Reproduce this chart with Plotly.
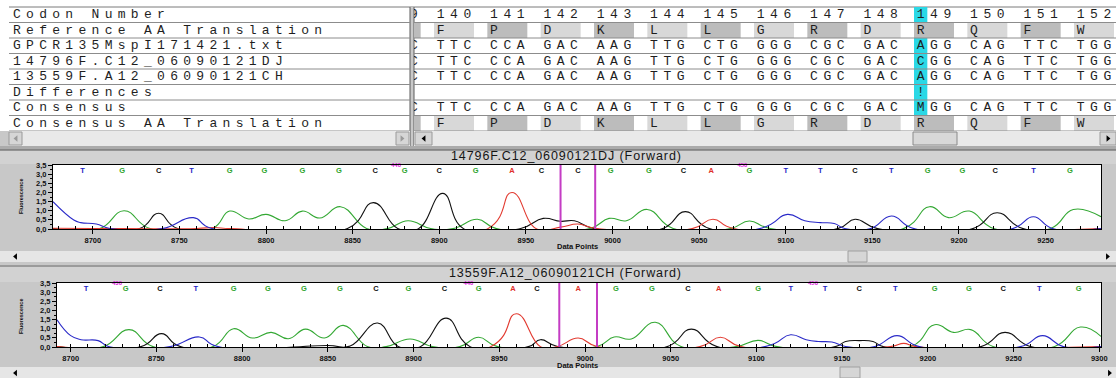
import plotly.graph_objects as go

W, H = 1116, 378

# ---------------------------------------------------------------- alignment table
row_labels = [
    "Codon Number",
    "Reference AA Translation",
    "GPCR135MspI171421.txt",
    "14796F.C12_06090121DJ",
    "13559F.A12_06090121CH",
    "Differences",
    "Consensus",
    "Consensus AA Translation",
]
codon_numbers = [139, 140, 141, 142, 143, 144, 145, 146, 147, 148, 149, 150, 151, 152]
ref_aa = [" ", "F", "P", "D", "K", "L", "L", "G", "R", "D", "R", "Q", "F", "W"]
seq_gpcr = ["  C", "TTC", "CCA", "GAC", "AAG", "TTG", "CTG", "GGG", "CGC", "GAC", "AGG", "CAG", "TTC", "TGG"]
seq_14796 = ["  C", "TTC", "CCA", "GAC", "AAG", "TTG", "CTG", "GGG", "CGC", "GAC", "CGG", "CAG", "TTC", "TGG"]
seq_13559 = ["  C", "TTC", "CCA", "GAC", "AAG", "TTG", "CTG", "GGG", "CGC", "GAC", "AGG", "CAG", "TTC", "TGG"]
seq_diff = ["   ", "   ", "   ", "   ", "   ", "   ", "   ", "   ", "   ", "   ", "!  ", "   ", "   ", "   "]
seq_consensus = ["  C", "TTC", "CCA", "GAC", "AAG", "TTG", "CTG", "GGG", "CGC", "GAC", "MGG", "CAG", "TTC", "TGG"]
cons_aa = [" ", "F", "P", "D", "K", "L", "L", "G", "R", "D", "R", "Q", "F", "W"]
variant_codon, variant_base = 149, 0

# ---------------------------------------------------------------- trace 14796F.C12 (Forward)
p1_title = "14796F.C12_06090121DJ (Forward)"
p1_range = [8677, 9282]
p1_green_x = [8677, 8704, 8718, 8733, 8769, 8779, 8790, 8800, 8811, 8821, 8831, 8843, 8858, 8870,
              8882, 8895, 8908, 8922, 8933, 8987, 8998, 9008, 9020, 9035, 9068, 9079, 9091, 9168,
              9183, 9194, 9206, 9220, 9253, 9266, 9282]
p1_green_y = [0.03, 0.02, 1.00, 0.02, 0.02, 0.98, 0.55, 0.80, 0.45, 0.98, 0.60, 1.22, 0.03, 0.02,
              0.45, 0.03, 0.02, 0.53, 0.02, 0.03, 0.58, 0.45, 1.07, 0.03, 0.02, 0.44, 0.03, 0.02,
              1.22, 0.62, 0.98, 0.03, 0.03, 1.07, 0.67]
p1_black_x = [8677, 8727, 8738, 8749, 8847, 8862, 8876, 8888, 8902, 8914, 8947, 8960, 8970, 8978,
              8989, 9029, 9042, 9056, 9130, 9140, 9153, 9208, 9222, 9237, 9282]
p1_black_y = [0.02, 0.02, 0.86, 0.02, 0.03, 1.44, 0.03, 0.02, 1.95, 0.02, 0.03, 0.58, 0.42, 0.45,
              0.03, 0.02, 0.95, 0.02, 0.02, 0.53, 0.02, 0.02, 0.89, 0.02, 0.02]
p1_red_x = [8677, 8700, 8760, 8770, 8780, 8928, 8942, 8956, 8970, 8980, 8990, 9046, 9058, 9070, 9282]
p1_red_y = [0.04, 0.03, 0.03, 0.08, 0.02, 0.02, 2.00, 0.02, 0.10, 0.27, 0.04, 0.02, 0.53, 0.02, 0.03]
p1_blue_x = [8677, 8689, 8693, 8702, 8710, 8740, 8758, 8769, 9085, 9101, 9111, 9120, 9128, 9134,
             9149, 9161, 9174, 9231, 9243, 9254, 9282]
p1_blue_y = [1.49, 0.49, 0.35, 0.27, 0.03, 0.02, 0.62, 0.02, 0.02, 0.80, 0.45, 0.35, 0.30, 0.03,
             0.02, 0.71, 0.02, 0.02, 0.67, 0.02, 0.03]
p1_calls = "TGCTGGGGCGCGACCGGCAGTTCTGGCTG"
p1_call_x = [8694, 8717, 8738, 8757, 8779, 8799, 8821, 8842, 8863, 8880, 8900, 8921, 8942, 8959,
             8980, 8999, 9021, 9041, 9057, 9079, 9100, 9120, 9140, 9161, 9182, 9202, 9221, 9243, 9264]
p1_marks = ["440", "450"]
p1_mark_x = [8875, 9075]
p1_cursor_x = [8970, 8990]

# ---------------------------------------------------------------- trace 13559F.A12 (Forward)
p2_title = "13559F.A12_06090121CH (Forward)"
p2_range = [8692, 9301]
p2_green_x = [8692, 8719, 8734, 8748, 8783, 8795, 8806, 8817, 8827, 8837, 8848, 8859, 8873, 8884,
              8898, 8911, 8927, 8938, 8949, 9007, 9017, 9027, 9041, 9056, 9088, 9101, 9112, 9190,
              9204, 9215, 9225, 9238, 9274, 9289, 9301]
p2_green_y = [0.03, 0.02, 0.95, 0.02, 0.02, 1.00, 0.49, 0.80, 0.45, 0.98, 0.49, 1.18, 0.03, 0.02,
              0.44, 0.02, 0.02, 0.53, 0.02, 0.03, 0.55, 0.44, 1.35, 0.03, 0.02, 0.36, 0.02, 0.02,
              1.22, 0.80, 0.95, 0.03, 0.03, 1.09, 0.58]
p2_black_x = [8692, 8741, 8753, 8764, 8850, 8863, 8879, 8891, 8904, 8919, 8933, 8967, 8974, 8984,
              9048, 9062, 9077, 9146, 9152, 9160, 9168, 9174, 9231, 9245, 9260, 9301]
p2_black_y = [0.02, 0.02, 0.73, 0.02, 0.08, 0.05, 1.31, 0.03, 0.02, 1.58, 0.02, 0.02, 0.40, 0.03,
              0.02, 0.98, 0.02, 0.02, 0.30, 0.35, 0.30, 0.02, 0.02, 0.80, 0.02, 0.02]
p2_red_x = [8692, 8945, 8960, 8974, 8984, 8996, 9007, 9067, 9079, 9091, 9178, 9186, 9193, 9301]
p2_red_y = [0.03, 0.02, 1.82, 0.02, 0.03, 0.49, 0.03, 0.02, 0.53, 0.02, 0.02, 0.20, 0.02, 0.03]
p2_blue_x = [8692, 8700, 8706, 8716, 8722, 8758, 8775, 8786, 9105, 9120, 9129, 9136, 9144, 9152,
             9169, 9182, 9195, 9254, 9267, 9279, 9301]
p2_blue_y = [1.49, 0.62, 0.40, 0.35, 0.03, 0.02, 0.55, 0.02, 0.02, 0.67, 0.40, 0.30, 0.27, 0.03,
             0.02, 0.62, 0.02, 0.02, 0.62, 0.02, 0.03]
p2_calls = "TGCTGGGGCGCGACAGGCAGTTCTGGCTG"
p2_call_x = [8709, 8732, 8752, 8773, 8795, 8815, 8836, 8857, 8878, 8897, 8918, 8938, 8958, 8972,
             8996, 9018, 9039, 9060, 9078, 9101, 9120, 9140, 9160, 9181, 9204, 9224, 9244, 9265, 9288]
p2_marks = ["430", "440", "450"]
p2_mark_x = [8727, 8932, 9133]
p2_cursor_x = [8985, 9007]

y_ticks = [0, 0.5, 1, 1.5, 2, 2.5, 3, 3.5]

# ---------------------------------------------------------------- styling
MONO = "Liberation Mono"
SANS = "Liberation Sans"
BASE_COLORS = {"A": "#e0302a", "C": "#111111", "G": "#2ea42e", "T": "#2424c4"}
LIGHT_AA, DARK_AA = "#d8d8d8", "#bcbcbc"
CYAN = "#2ad8e6"
SEP = "#8c8c8c"

fig = go.Figure()
shapes, annotations = [], []


def box(x0, y0, x1, y1, fill, line=None, layer="below"):
    shapes.append(dict(type="rect", xref="paper", yref="paper",
                       x0=x0 / W, x1=x1 / W, y0=1 - y1 / H, y1=1 - y0 / H,
                       fillcolor=fill, layer=layer,
                       line=dict(color=line or fill, width=1 if line else 0)))


def hline(x0, x1, y, color, layer="below"):
    shapes.append(dict(type="line", xref="paper", yref="paper",
                       x0=x0 / W, x1=x1 / W, y0=1 - y / H, y1=1 - y / H,
                       line=dict(color=color, width=1), layer=layer))


def vline(x, y0, y1, color, layer="below"):
    shapes.append(dict(type="line", xref="paper", yref="paper",
                       x0=x / W, x1=x / W, y0=1 - y0 / H, y1=1 - y1 / H,
                       line=dict(color=color, width=1), layer=layer))


def arrow(cx, cy, direction, color="#000000", s=3.2):
    if direction == "left":
        pts = [(cx - s * 0.6, cy), (cx + s * 0.6, cy - s), (cx + s * 0.6, cy + s)]
    else:
        pts = [(cx + s * 0.6, cy), (cx - s * 0.6, cy - s), (cx - s * 0.6, cy + s)]
    path = "M " + " L ".join(f"{x / W:.5f},{1 - y / H:.5f}" for x, y in pts) + " Z"
    shapes.append(dict(type="path", xref="paper", yref="paper", path=path,
                       fillcolor=color, line=dict(width=0), layer="above"))


def label(text, x, y, size, weight="normal", angle=0, color="#111"):
    annotations.append(dict(text=text, x=x / W, y=1 - y / H, xref="paper", yref="paper",
                            xanchor="center", yanchor="middle", showarrow=False,
                            textangle=angle,
                            font=dict(family=SANS, size=size, weight=weight, color=color)))


# ---------------------------------------------------------------- window chrome
box(0, 0, W, 131, "white")
hline(9, W, 7, "#7a7a7a")
# splitter between label pane and sequence pane
box(410, 7, 414, 147, "#c9c9c9")
vline(410, 7, 147, "#5a5a5a")
vline(414, 7, 147, "#5a5a5a")
# scroll bars under the alignment table
box(9, 131, 410, 146, "#e9e9e9")
box(9, 132, 22, 145, "#d6d6d6", "#9a9a9a")
box(396, 132, 409, 145, "#d6d6d6", "#9a9a9a")
arrow(15.5, 138.5, "left", "#9a9a9a")
arrow(402.5, 138.5, "right", "#9a9a9a")
box(414, 131, W, 146, "#e9e9e9")
box(415, 132, 432, 145, "#d6d6d6", "#9a9a9a")
arrow(423.5, 138.5, "left")
box(913, 132, 957, 145, "#d8d8d8", "#8a8a8a")
box(1100, 132, W, 145, "#d6d6d6", "#9a9a9a")
arrow(1108.5, 138.5, "right")
box(0, 146, W, 150, "#ababab")
hline(0, W, 150, "#5e5e5e")

# chromatogram panels
box(0, 151, W, 164, "#d2d2d2")
box(53, 165, 1101, 229, "white")
box(0, 251, W, 262, "#e6e6e6")
arrow(15, 256.5, "left")
box(848, 251, 867, 262, "#d6d6d6", "#a0a0a0")
arrow(1108, 256.5, "right")
hline(0, W, 266, "#6e6e6e")
box(0, 267, W, 282, "#d2d2d2")
box(57, 283, 1101, 347, "white")
box(0, 367, W, 378, "#e6e6e6")
arrow(15, 373, "left")
box(840, 367, 860, 378, "#d6d6d6", "#a0a0a0")
arrow(1110, 373, "right")

# ---------------------------------------------------------------- alignment table contents
RX = [-1.5, 51.15]          # sequence pane, in character cells
LX = [-0.1, 30.51]          # label pane, in character cells
NROWS = len(row_labels)


def cell(num, j):
    return (num - 140) * 4 + j


# amino-acid shading
for i, num in enumerate(codon_numbers):
    fill = LIGHT_AA if (num - 140) % 2 == 0 else DARK_AA
    for r in (1, 7):
        shapes.append(dict(type="rect", xref="x3", yref="y3",
                           x0=max(cell(num, 0), RX[0]), x1=cell(num, 2) + 1, y0=r, y1=r + 1,
                           fillcolor=fill, line=dict(width=0), layer="below"))
# highlighted difference column
vc = cell(variant_codon, variant_base)
for r in (0, 2, 3, 4, 5, 6):
    shapes.append(dict(type="rect", xref="x3", yref="y3", x0=vc, x1=vc + 1, y0=r, y1=r + 1,
                       fillcolor=CYAN, line=dict(width=0), layer="below"))
# row separators
for r in range(1, NROWS + 1):
    for xr, yr in (("x3 domain", "y3"), ("x4 domain", "y4")):
        shapes.append(dict(type="line", xref=xr, yref=yr, x0=0, x1=1, y0=r, y1=r,
                           line=dict(color=SEP, width=1), layer="above"))

# sequence pane text
sx, sy, st = [], [], []
rows_seq = [(2, seq_gpcr), (3, seq_14796), (4, seq_13559), (5, seq_diff), (6, seq_consensus)]
for i, num in enumerate(codon_numbers):
    for j, ch in enumerate(str(num)):
        sx.append(cell(num, j) + 0.5); sy.append(0.5); st.append(ch)
    for r, seq in rows_seq:
        for j, ch in enumerate(seq[i]):
            if ch.strip():
                sx.append(cell(num, j) + 0.5); sy.append(r + 0.5); st.append(ch)
    for r, aa in ((1, ref_aa), (7, cons_aa)):
        if aa[i].strip():
            sx.append(cell(num, 0) + 0.5); sy.append(r + 0.5); st.append(aa[i])
fig.add_trace(go.Scatter(x=sx, y=sy, text=st, mode="text", xaxis="x3", yaxis="y3",
                         textfont=dict(family=MONO, size=13, color="#1e1e1e"),
                         textposition="middle center", cliponaxis=True,
                         hoverinfo="skip", showlegend=False))

# label pane text
lx, ly, lt = [], [], []
for r, row_name in enumerate(row_labels):
    for j, ch in enumerate(row_name):
        if ch.strip():
            lx.append(j + 0.5); ly.append(r + 0.5); lt.append(ch)
fig.add_trace(go.Scatter(x=lx, y=ly, text=lt, mode="text", xaxis="x4", yaxis="y4",
                         textfont=dict(family=MONO, size=13, color="#1e1e1e"),
                         textposition="middle center", cliponaxis=True,
                         hoverinfo="skip", showlegend=False))

# ---------------------------------------------------------------- chromatograms
panels = [
    dict(xa="x", ya="y", green=(p1_green_x, p1_green_y), black=(p1_black_x, p1_black_y),
         red=(p1_red_x, p1_red_y), blue=(p1_blue_x, p1_blue_y), calls=p1_calls,
         call_x=p1_call_x, call_y=3.16, marks=p1_marks, mark_x=p1_mark_x, mark_y=3.5,
         cursor=p1_cursor_x),
    dict(xa="x2", ya="y2", green=(p2_green_x, p2_green_y), black=(p2_black_x, p2_black_y),
         red=(p2_red_x, p2_red_y), blue=(p2_blue_x, p2_blue_y), calls=p2_calls,
         call_x=p2_call_x, call_y=3.17, marks=p2_marks, mark_x=p2_mark_x, mark_y=3.45,
         cursor=p2_cursor_x),
]
trace_colors = {"green": "#33a833", "black": "#111111", "red": "#e23a30", "blue": "#2a2ac8"}
for p in panels:
    for key in ("green", "black", "red", "blue"):
        xs, ys = p[key]
        fig.add_trace(go.Scatter(x=xs, y=ys, mode="lines", xaxis=p["xa"], yaxis=p["ya"],
                                 line=dict(color=trace_colors[key], width=1.1,
                                           shape="spline", smoothing=1.3),
                                 hoverinfo="skip", showlegend=False))
    fig.add_trace(go.Scatter(x=p["call_x"], y=[p["call_y"]] * len(p["calls"]),
                             text=list(p["calls"]), mode="text",
                             xaxis=p["xa"], yaxis=p["ya"],
                             textfont=dict(family=SANS, size=7.5, weight="bold",
                                           color=[BASE_COLORS[b] for b in p["calls"]]),
                             hoverinfo="skip", showlegend=False))
    fig.add_trace(go.Scatter(x=p["mark_x"], y=[p["mark_y"]] * len(p["marks"]), text=p["marks"],
                             mode="text", xaxis=p["xa"], yaxis=p["ya"],
                             textfont=dict(family=SANS, size=6, weight="bold", color="#dd22dd"),
                             cliponaxis=False, hoverinfo="skip", showlegend=False))
    for cx in p["cursor"]:
        shapes.append(dict(type="line", xref=p["xa"], yref=p["ya"] + " domain",
                           x0=cx, x1=cx, y0=0, y1=1,
                           line=dict(color="#c43cc4", width=2), layer="above"))

# panel captions and axis names
for text, cx, cy in ((p1_title, 566, 156), (p2_title, 565, 273)):
    label(f'<span style="letter-spacing:0.9px">{text}</span>', cx, cy, 12.5, color="#151515")
for yy in (246, 365):
    label("Data Points", 578, yy, 7.5, weight="bold")
for yy in (197, 317):
    label("Fluorescence", 21, yy, 5.5, weight="bold", angle=-90)

tickfont = dict(family=SANS, size=7.5, weight="bold", color="#111")


def chrom_x(domain, rng, anchor):
    return dict(domain=domain, range=rng, anchor=anchor, showgrid=False, zeroline=False,
                showline=True, linecolor="black", linewidth=1, mirror=True,
                ticks="outside", ticklen=4, tickcolor="black", tick0=8700, dtick=50,
                tickfont=tickfont, automargin=False, fixedrange=True,
                minor=dict(ticks="inside", dtick=10, ticklen=3, tickcolor="black"))


def chrom_y(domain, anchor):
    return dict(domain=domain, range=[0, 3.5], anchor=anchor, showgrid=False, zeroline=False,
                showline=True, linecolor="black", linewidth=1, mirror=True,
                tickmode="array", tickvals=y_ticks, tickformat=".1f",
                ticks="outside", ticklen=4, tickcolor="black", tickfont=tickfont,
                automargin=False, fixedrange=True,
                minor=dict(ticks="outside", dtick=0.25, ticklen=2, tickcolor="black"))


hidden = dict(visible=False, showgrid=False, zeroline=False, fixedrange=True)
table_dom = [1 - 131 / H, 1 - 7 / H]

fig.update_layout(
    width=W, height=H, autosize=False,
    margin=dict(l=0, r=0, t=0, b=0, pad=0),
    paper_bgcolor="#c8c8c8", plot_bgcolor="rgba(0,0,0,0)",
    separators=",.",
    showlegend=False,
    xaxis=chrom_x([53 / W, 1101 / W], p1_range, "y"),
    yaxis=chrom_y([1 - 229 / H, 1 - 165 / H], "x"),
    xaxis2=chrom_x([57 / W, 1101 / W], p2_range, "y2"),
    yaxis2=chrom_y([1 - 347 / H, 1 - 283 / H], "x2"),
    xaxis3=dict(hidden, domain=[414 / W, 1.0], range=RX, anchor="y3"),
    yaxis3=dict(hidden, domain=table_dom, range=[NROWS, 0], anchor="x3"),
    xaxis4=dict(hidden, domain=[9 / W, 410 / W], range=LX, anchor="y4"),
    yaxis4=dict(hidden, domain=table_dom, range=[NROWS, 0], anchor="x4"),
    shapes=shapes,
    annotations=annotations,
)

fig.write_html("out.html", config={"displayModeBar": False, "staticPlot": True})
